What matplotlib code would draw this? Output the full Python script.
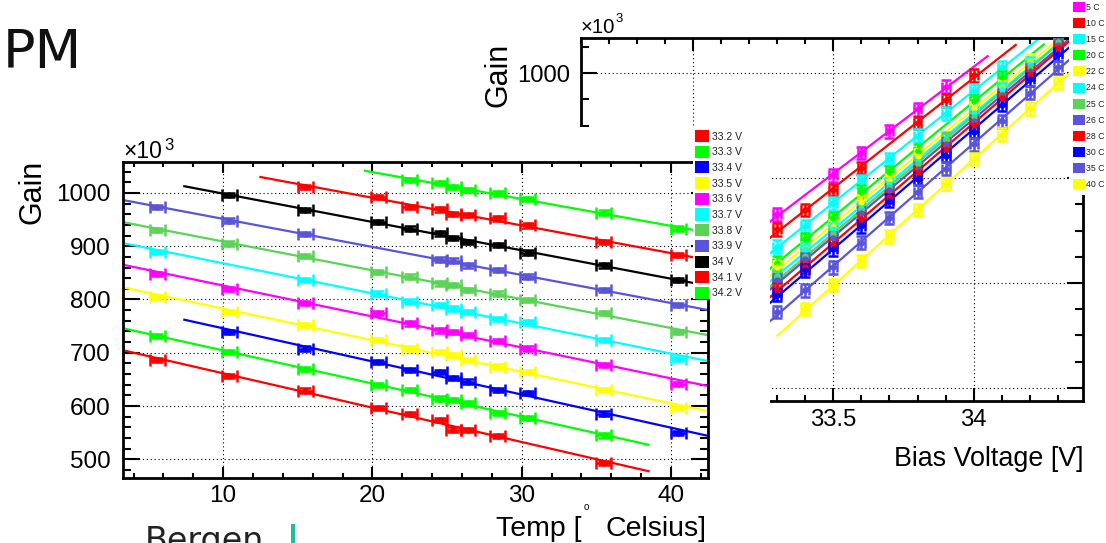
import numpy as np
import matplotlib
matplotlib.use("Agg")
import matplotlib.pyplot as plt
from matplotlib.patches import Rectangle
from matplotlib.ticker import MultipleLocator, FuncFormatter
from matplotlib import font_manager

nan = np.nan

# ---------------------------------------------------------------- data
# Measured temperatures of the scan points (deg C) and their nominal set points
temp_measured = [5.6, 10.4, 15.5, 20.4, 22.5, 24.5, 25.4, 26.4, 28.4, 30.4, 35.5, 40.5]
temp_labels = ["5 C", "10 C", "15 C", "20 C", "22 C", "24 C",
               "25 C", "26 C", "28 C", "30 C", "35 C", "40 C"]

bias_voltages = [33.2, 33.3, 33.4, 33.5, 33.6, 33.7, 33.8, 33.9, 34.0, 34.1, 34.2]
bias_labels = ["33.2 V", "33.3 V", "33.4 V", "33.5 V", "33.6 V", "33.7 V",
               "33.8 V", "33.9 V", "34 V", "34.1 V", "34.2 V"]

# Gain (x10^3) per bias voltage, one value per temperature point
gain_33_2 = [687, 656, 629, 597, 585, 574, 556, 555, 544, nan, 493, nan]
gain_33_3 = [731, 702, 669, 639, 630, 614, 611, 605, 587, 577, 545, nan]
gain_33_4 = [nan, 739, 708, 683, 667, 664, 652, 646, 630, 624, 586, 550]
gain_33_5 = [805, 777, 752, 724, 708, 702, 696, 686, 674, 664, 630, 596]
gain_33_6 = [848, 819, 794, 774, 755, 742, 739, 733, 722, 708, 677, 642]
gain_33_7 = [889, nan, 836, 811, 796, 789, 783, 777, 764, 757, 724, 689]
gain_33_8 = [931, 905, 881, 852, 843, 830, 827, 818, 811, 799, 774, 739]
gain_33_9 = [974, 948, 923, nan, nan, 875, 873, 864, 855, 843, 818, 789]
gain_34_0 = [nan, 996, 968, 946, 933, 924, 916, 908, 902, 888, 864, 836]
gain_34_1 = [nan, nan, 1011, 993, 974, 969, 961, 958, 952, 939, 908, 883]
gain_34_2 = [nan, nan, nan, nan, 1024, 1018, 1011, 1005, 999, 988, 963, 933]

# Extra bias point only used in the voltage scan
extra_voltage = 34.3
gain_34_3 = [nan, nan, nan, nan, nan, nan, 1059, 1053, 1047, 1036, 1011, 981]

gain_by_bias = [gain_33_2, gain_33_3, gain_33_4, gain_33_5, gain_33_6, gain_33_7,
                gain_33_8, gain_33_9, gain_34_0, gain_34_1, gain_34_2]

# ---------------------------------------------------------------- colours
BLACK, RED, GREEN, BLUE = "#000000", "#ff0000", "#00ff00", "#0000ff"
YELLOW, MAGENTA, CYAN = "#ffff00", "#ff00ff", "#00ffff"
LGREEN, SLATE = "#59d454", "#5954d9"

bias_colors = [RED, GREEN, BLUE, YELLOW, MAGENTA, CYAN, LGREEN, SLATE, BLACK, RED, GREEN]
temp_colors = [MAGENTA, RED, CYAN, GREEN, YELLOW, CYAN, LGREEN, SLATE, RED, BLUE, SLATE, YELLOW]

# ---------------------------------------------------------------- figure
W, H = 1106, 543
fig = plt.figure(figsize=(W / 100, H / 100), dpi=100)
fig.patch.set_facecolor("white")


def fx(px):
    return px / W


def fy(py):
    return 1 - py / H


available = {f.name for f in font_manager.fontManager.ttflist}
SANS = "Liberation Sans"
NARROW = "Liberation Sans Narrow" if "Liberation Sans Narrow" in available else SANS
nscale = 1.0 if NARROW != SANS else 0.86

plt.rcParams["font.family"] = [SANS, "DejaVu Sans"]

fmt_g = FuncFormatter(lambda v, p: f"{v:g}")


def style_axes(ax, xmaj, xmin, ymaj, ymin, xlen, ylen, font, fsize, xpad, ypad):
    for s in ax.spines.values():
        s.set_linewidth(2.0)
        s.set_color("black")
    ax.xaxis.set_major_locator(MultipleLocator(xmaj))
    ax.xaxis.set_minor_locator(MultipleLocator(xmin))
    ax.yaxis.set_major_locator(MultipleLocator(ymaj))
    ax.yaxis.set_minor_locator(MultipleLocator(ymin))
    ax.xaxis.set_major_formatter(fmt_g)
    ax.yaxis.set_major_formatter(fmt_g)
    ax.tick_params(which="both", direction="in", top=True, right=True,
                   width=1.5, color="black", labelcolor="black")
    ax.tick_params(axis="x", which="major", length=xlen[0], pad=xpad,
                   labelsize=fsize, labelfontfamily=font)
    ax.tick_params(axis="x", which="minor", length=xlen[1])
    ax.tick_params(axis="y", which="major", length=ylen[0], pad=ypad,
                   labelsize=fsize, labelfontfamily=font)
    ax.tick_params(axis="y", which="minor", length=ylen[1])
    ax.grid(True, which="major", color="black", linestyle=(0, (1, 2.5)), linewidth=0.8)
    ax.set_axisbelow(True)


# ------------------------------------------------ gain vs bias voltage (back)
ax_r = fig.add_axes([fx(581), fy(401), (1083 - 581) / W, (401 - 38) / H], zorder=0)
V = np.array(bias_voltages + [extra_voltage])
table = np.array(gain_by_bias + [gain_34_3], dtype=float)
for j, color in enumerate(temp_colors):
    g = table[:, j]
    m = ~np.isnan(g)
    v, y = V[m], g[m]
    a, b = np.polyfit(v, y, 1)
    vv = np.array([v.min() - 0.1, v.max() + 0.15])
    ax_r.plot(vv, a * vv + b, color=color, lw=1.6, zorder=2)
    ax_r.errorbar(v, y, xerr=0.014, yerr=12, fmt="o", ms=3.5, color=color,
                  ecolor=color, elinewidth=1.8, capsize=3.5, capthick=1.8, zorder=3)
ax_r.set_xlim(32.6, 34.39)
ax_r.set_ylim(375, 1067)
style_axes(ax_r, 0.5, 0.1, 200, 50, (9.5, 4.5), (11.5, 6), NARROW, 20 * nscale, 6, 8)

fig.text(fx(499), fy(43), "Gain", rotation=90, ha="center", va="top",
         fontsize=22, family=SANS, zorder=5)
fig.text(fx(581), fy(33), "\u00d710", fontsize=17 * nscale, family=NARROW,
         ha="left", va="baseline", zorder=5)
fig.text(fx(616), fy(22), "3", fontsize=11 * nscale, family=NARROW,
         ha="left", va="baseline", zorder=5)
fig.text(fx(1083), fy(466), "Bias Voltage [V]", fontsize=22.5 * nscale, family=NARROW,
         ha="right", va="baseline", zorder=5)

# legend of the voltage scan
fig.add_artist(Rectangle((fx(1069), fy(195)), (1106 - 1069) / W, 195 / H,
                         transform=fig.transFigure, fc="white", ec="none", zorder=3))
for k, (lab, col) in enumerate(zip(temp_labels, temp_colors)):
    yc = 7 + 16.1 * k
    fig.add_artist(Rectangle((fx(1073), fy(yc + 5)), 12 / W, 10 / H,
                             transform=fig.transFigure, fc=col, ec="none", zorder=4))
    fig.text(fx(1086), fy(yc + 0.5), lab, fontsize=6.3, family=SANS, color="#222222",
             ha="left", va="center", zorder=4)

# white panel holding the temperature plot
fig.add_artist(Rectangle((0, 0), 770 / W, (543 - 127) / H, transform=fig.transFigure,
                         fc="white", ec="none", zorder=1))

# ------------------------------------------------ gain vs temperature (front)
ax_l = fig.add_axes([fx(123), fy(478), (708 - 123) / W, (478 - 162) / H], zorder=2)
T = np.array(temp_measured)
for gains, color in zip(gain_by_bias, bias_colors):
    g = np.array(gains, dtype=float)
    m = ~np.isnan(g)
    t, y = T[m], g[m]
    a, b = np.polyfit(t, y, 1)
    tt = np.array([t.min() - 3.0, t.max() + 3.0])
    ax_l.plot(tt, a * tt + b, color=color, lw=1.6, zorder=2)
    ax_l.errorbar(t, y, xerr=0.5, yerr=4, fmt="o", ms=3.5, color=color, ecolor=color,
                  elinewidth=1.8, capsize=4.3, capthick=1.8, zorder=3)
ax_l.set_xlim(3.29, 42.48)
ax_l.set_ylim(465, 1058)
style_axes(ax_l, 10, 2, 100, 20, (8, 3.6), (12, 6), SANS, 17.5, 5, 9)

fig.text(fx(32), fy(160), "Gain", rotation=90, ha="center", va="top",
         fontsize=22, family=SANS, zorder=5)
fig.text(fx(123), fy(158), "\u00d710", fontsize=16.5, family=SANS,
         ha="left", va="baseline", zorder=5)
fig.text(fx(164), fy(150), "3", fontsize=12, family=SANS,
         ha="left", va="baseline", zorder=5)
fig.text(fx(582), fy(536), "Temp [", fontsize=20.5, family=SANS,
         ha="right", va="baseline", zorder=5)
fig.text(fx(586), fy(507), "o", fontsize=7, family=SANS,
         ha="center", va="center", zorder=5)
fig.text(fx(706), fy(536), "Celsius]", fontsize=20.5, family=SANS,
         ha="right", va="baseline", zorder=5)

# legend of the temperature scan
fig.add_artist(Rectangle((fx(693), fy(299)), (770 - 693) / W, (299 - 127) / H,
                         transform=fig.transFigure, fc="white", ec="none", zorder=3))
for k, (lab, col) in enumerate(zip(bias_labels, bias_colors)):
    yc = 136 + 15.7 * k
    fig.add_artist(Rectangle((fx(695), fy(yc + 6)), 14 / W, 12 / H,
                             transform=fig.transFigure, fc=col, ec="none", zorder=4))
    fig.text(fx(712), fy(yc + 0.5), lab, fontsize=7.5, family=SANS, color="#222222",
             ha="left", va="center", zorder=4)

# ------------------------------------------------ slide decorations
fig.text(fx(3), fy(68), "PM", fontsize=39, family="DejaVu Sans", color="#111111",
         ha="left", va="baseline", zorder=6)
fig.text(fx(145), fy(551), "Bergen", fontsize=24, family="DejaVu Sans", color="#222222",
         ha="left", va="baseline", zorder=6)
fig.add_artist(Rectangle((fx(291), 0), 4 / W, (543 - 524) / H, transform=fig.transFigure,
                         fc="#1abf9c", ec="none", zorder=6))

fig.savefig("out.png", dpi=100, facecolor="white")
